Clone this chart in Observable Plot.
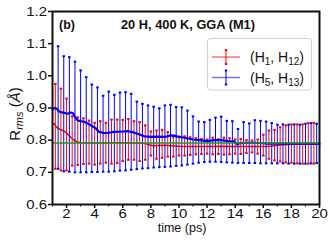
<!DOCTYPE html>
<html><head><meta charset="utf-8">
<script src="https://cdn.jsdelivr.net/npm/d3@7"></script>
<script src="https://cdn.jsdelivr.net/npm/@observablehq/plot@0.6"></script>
<style>
html,body{margin:0;padding:0;background:#fff;}
#chart{position:relative;width:332px;height:245px;}
</style></head><body><div id="chart"></div>
<script>
// ---- data ----
const redT = [1.2,1.6,2.0,2.4,2.8,3.2,3.6,4.0,4.4,4.8,5.2,5.6,6.0,6.4,6.8,7.2,7.6,8.0,8.4,8.8,9.2,9.6,10.0,10.4,10.8,11.2,11.6,12.0,12.4,12.8,13.2,13.6,14.0,14.4,14.8,15.2,15.6,16.0,16.4,16.8,17.2,17.6,18.0,18.4,18.8,19.2,19.6];
const redHi = [0.975,0.960,0.929,0.874,0.871,0.868,0.861,0.854,0.859,0.854,0.864,0.864,0.863,0.866,0.859,0.856,0.846,0.827,0.830,0.832,0.825,0.811,0.811,0.812,0.809,0.806,0.804,0.802,0.808,0.803,0.808,0.806,0.802,0.804,0.800,0.799,0.802,0.817,0.830,0.832,0.840,0.846,0.849,0.849,0.849,0.853,0.854];
const redLo = [0.711,0.706,0.706,0.721,0.723,0.726,0.727,0.724,0.727,0.730,0.727,0.729,0.735,0.739,0.739,0.735,0.739,0.752,0.742,0.745,0.749,0.749,0.752,0.752,0.754,0.756,0.757,0.758,0.756,0.757,0.755,0.756,0.758,0.757,0.760,0.762,0.758,0.752,0.742,0.737,0.734,0.731,0.730,0.728,0.727,0.727,0.727];
const blueT = [1.4,1.8,2.2,2.6,3.0,3.4,3.8,4.2,4.6,5.0,5.4,5.8,6.2,6.6,7.0,7.4,7.8,8.2,8.6,9.0,9.4,9.8,10.2,10.6,11.0,11.4,11.8,12.2,12.6,13.0,13.4,13.8,14.2,14.6,15.0,15.4,15.8,16.2,16.6,17.0,17.4,17.8,18.2,18.6,19.0,19.4,19.8];
const blueHi = [1.092,1.061,1.058,1.044,1.017,0.996,0.973,0.964,0.938,0.951,0.941,0.948,0.949,0.944,0.920,0.913,0.908,0.904,0.899,0.908,0.910,0.903,0.902,0.892,0.874,0.858,0.856,0.863,0.870,0.873,0.860,0.859,0.835,0.856,0.852,0.862,0.860,0.858,0.853,0.848,0.849,0.848,0.849,0.848,0.851,0.853,0.851];
const blueLo = [0.711,0.703,0.702,0.700,0.700,0.700,0.701,0.701,0.702,0.702,0.703,0.705,0.706,0.708,0.710,0.712,0.713,0.715,0.716,0.717,0.718,0.720,0.721,0.724,0.727,0.730,0.732,0.733,0.733,0.732,0.731,0.730,0.729,0.729,0.729,0.729,0.728,0.728,0.728,0.728,0.728,0.727,0.727,0.727,0.727,0.728,0.729];

const redMeanT = [1.0,1.12,1.3,1.5,1.8,2.0,2.2,2.4,2.6,2.8,3.0,4.0,5.0,6.0,7.0,7.6,7.9,8.2,9.0,9.6,10.0,11.0,12.0,13.0,14.0,15.0,16.0,16.5,17.0,17.5,18.0,20.0];
const redMeanV = [0.852,0.851,0.840,0.834,0.829,0.822,0.813,0.805,0.798,0.794,0.792,0.791,0.792,0.792,0.791,0.790,0.785,0.783,0.784,0.782,0.781,0.780,0.780,0.781,0.780,0.780,0.780,0.781,0.784,0.786,0.787,0.787];
const blueMeanT = [1.0,1.12,1.3,1.45,1.6,1.9,2.07,2.3,2.45,2.6,2.8,3.25,3.5,3.73,4.08,4.3,4.68,5.0,5.39,6.0,6.34,6.7,7.05,7.52,8.0,8.47,9.0,9.4,9.65,10.0,10.6,11.0,11.5,12.0,12.5,13.0,13.5,13.9,14.15,14.4,15.0,16.0,16.3,20.0];
const blueMeanV = [0.895,0.900,0.898,0.890,0.887,0.884,0.882,0.886,0.884,0.872,0.861,0.857,0.852,0.846,0.837,0.826,0.822,0.823,0.826,0.827,0.828,0.825,0.820,0.812,0.810,0.811,0.810,0.815,0.814,0.810,0.806,0.802,0.800,0.797,0.800,0.800,0.797,0.796,0.788,0.791,0.792,0.791,0.789,0.789];
const greenT = [1.0,20.0];
const greenV = [0.791,0.791];

const xTicks = [2,4,6,8,10,12,14,16,18,20];
const xMinor = [1,3,5,7,9,11,13,15,17,19];
const yTicks = [0.6,0.7,0.8,0.9,1.0,1.1,1.2];

// ---- build tables ----
const RED = "#ff0000", BLUE = "#0000ff", GREEN = "#1f9a1f";
const red = redT.map((t,i)=>({t, hi: redHi[i], lo: redLo[i]}));
const blue = blueT.map((t,i)=>({t, hi: blueHi[i], lo: blueLo[i]}));
const redMean = redMeanT.map((t,i)=>({t, v: redMeanV[i]}));
const blueMean = blueMeanT.map((t,i)=>({t, v: blueMeanV[i]}));
const green = greenT.map((t,i)=>({t, v: greenV[i]}));
const capW = 0.09;

function errMarks(data, color) {
  return [
    Plot.ruleX(data, {x: "t", y1: "lo", y2: "hi", stroke: color, strokeWidth: 1}),
    Plot.link(data, {x1: d=>d.t-capW, x2: d=>d.t+capW, y1: "hi", y2: "hi", stroke: color, strokeWidth: 2}),
    Plot.link(data, {x1: d=>d.t-capW, x2: d=>d.t+capW, y1: "lo", y2: "lo", stroke: color, strokeWidth: 2})
  ];
}

const font = "'Liberation Sans', Arial, sans-serif";
const svg = Plot.plot({
  width: 332, height: 245,
  marginLeft: 52, marginRight: 13, marginTop: 11, marginBottom: 41,
  style: {fontFamily: font, fontSize: "12.5px", color: "#111", background: "#fff", overflow: "visible"},
  x: {domain: [1,20], label: null},
  y: {domain: [0.6,1.2], label: null},
  marks: [
    Plot.axisX({ticks: xTicks, tickSize: 4, tickPadding: 1, strokeWidth: 1.5, label: null}),
    Plot.axisX({ticks: xMinor, tickSize: 2.5, tickFormat: () => "", strokeWidth: 1, label: null}),
    Plot.axisY({ticks: yTicks, tickSize: 4, tickPadding: 1.5, tickFormat: d3.format(".1f"), strokeWidth: 1.5, label: null}),
    ...errMarks(red, RED),
    Plot.line(redMean, {x: "t", y: "v", stroke: RED, strokeWidth: 1.5}),
    ...errMarks(blue, BLUE),
    Plot.line(blueMean, {x: "t", y: "v", stroke: BLUE, strokeWidth: 2.2}),
    Plot.line(green, {x: "t", y: "v", stroke: GREEN, strokeWidth: 1.5}),
    Plot.frame({stroke: "#111", strokeWidth: 2})
  ]
});
document.getElementById("chart").appendChild(svg);

const s = d3.select(svg);
// widen tick labels horizontally (reference glyphs are wider than tall)
function widen(sel, anchor) {
  s.selectAll(sel).each(function() {
    const bb = this.getBBox();
    if (!bb.width) return;
    const ax = anchor === "end" ? bb.x + bb.width : bb.x + bb.width / 2;
    const tr = this.getAttribute("transform") || "";
    this.setAttribute("transform", `${tr} translate(${ax},0) scale(1.2,1) translate(${-ax},0)`);
  });
}
widen('g[aria-label="x-axis tick label"] text', "middle");
widen('g[aria-label="y-axis tick label"] text', "end");

// ---- annotations ----
const ann = s.append("g").attr("font-family", font).attr("fill", "#111").attr("text-anchor", "start");
ann.append("text").attr("x", 59).attr("y", 28.5).attr("font-size", 12.5).attr("font-weight", "bold").text("(b)");
ann.append("text").attr("x", 121).attr("y", 29).attr("font-size", 12.8).attr("font-weight", "bold").text("20 H, 400 K, GGA (M1)");
// x label
ann.append("text").attr("x", 182).attr("y", 232).attr("text-anchor", "middle").attr("font-size", 12.5).text("time (ps)");
// y label
const yl = ann.append("text").attr("transform", "translate(19.5,114) rotate(-90)").attr("text-anchor", "middle").attr("font-size", 15);
yl.append("tspan").text("R");
yl.append("tspan").attr("font-style", "italic").attr("font-size", 11).attr("dy", 3).text("rms");
yl.append("tspan").attr("dy", -3).text(" (");
yl.append("tspan").attr("font-style", "italic").text("Å");
yl.append("tspan").text(")");

// legend
const lg = s.append("g").attr("font-family", font).attr("text-anchor", "start");
lg.append("rect").attr("x", 207.5).attr("y", 38.5).attr("width", 104).attr("height", 51.5).attr("rx", 3)
  .attr("fill", "#fff").attr("fill-opacity", 0.85).attr("stroke", "#d0d0d0");
const entries = [{c: RED, y: 57, a: "1", b: "12"}, {c: BLUE, y: 77.5, a: "5", b: "13"}];
for (const e of entries) {
  lg.append("line").attr("x1", 212).attr("x2", 240).attr("y1", e.y).attr("y2", e.y).attr("stroke", e.c).attr("stroke-opacity", 0.55).attr("stroke-width", 1.5);
  lg.append("line").attr("x1", 226).attr("x2", 226).attr("y1", e.y-7).attr("y2", e.y+7).attr("stroke", e.c).attr("stroke-width", 1);
  lg.append("line").attr("x1", 224.8).attr("x2", 227.2).attr("y1", e.y-7).attr("y2", e.y-7).attr("stroke", e.c).attr("stroke-width", 2);
  lg.append("line").attr("x1", 224.8).attr("x2", 227.2).attr("y1", e.y+7).attr("y2", e.y+7).attr("stroke", e.c).attr("stroke-width", 2);
  const t = lg.append("text").attr("x", 250).attr("y", e.y + 5).attr("font-size", 14).attr("fill", "#111");
  t.append("tspan").text("(H");
  t.append("tspan").attr("font-size", 10).attr("dy", 3).text(e.a);
  t.append("tspan").attr("dy", -3).text(", H");
  t.append("tspan").attr("font-size", 10).attr("dy", 3).text(e.b);
  t.append("tspan").attr("dy", -3).text(")");
}
</script>
</body></html>
